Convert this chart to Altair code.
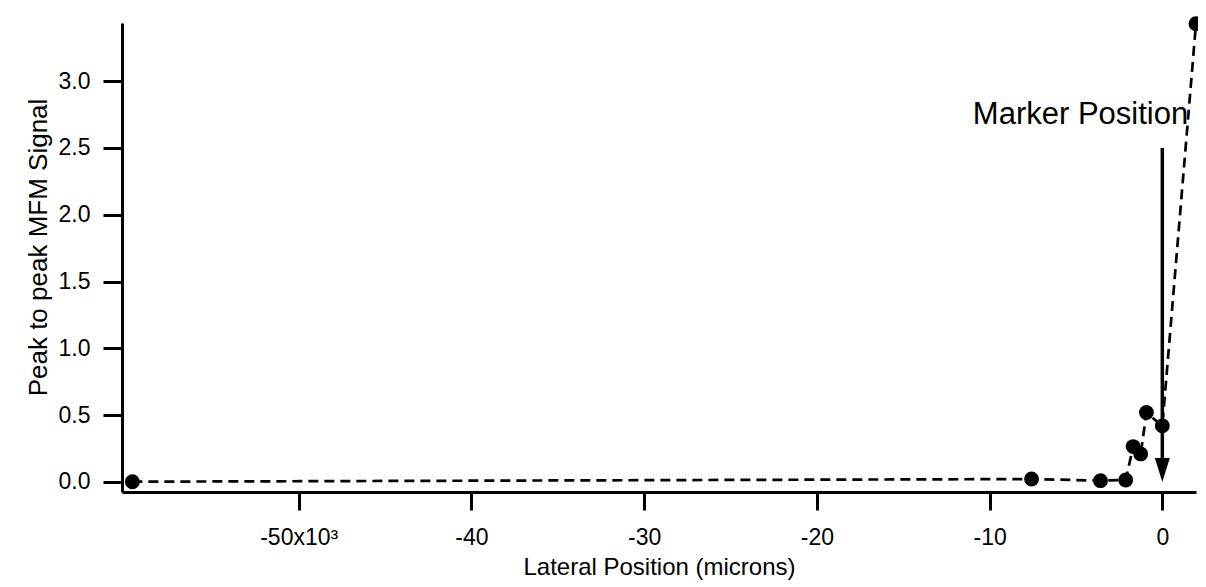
import altair as alt
import pandas as pd

# Data (lateral position in microns, peak-to-peak signal)
x_microns = [-59630, -7570, -3580, -2120, -1690, -1250, -920, 0, 1950]
signal = [0.002, 0.022, 0.010, 0.015, 0.265, 0.210, 0.520, 0.420, 3.430]

x_ticks = [-50000, -40000, -30000, -20000, -10000, 0]
y_ticks = [0.0, 0.5, 1.0, 1.5, 2.0, 2.5, 3.0]

marker_x = [0]
marker_top = [2.5]
marker_line_end = [0.1]
marker_tip = [0.0]
marker_label = ["Marker Position"]
label_x = [1500]
label_y = [2.68]

FONT = "Liberation Sans"

df = pd.DataFrame({"x": x_microns, "y": signal})
arrow_df = pd.DataFrame({"x": marker_x, "y": marker_top, "y2": marker_line_end, "tip": marker_tip})
label_df = pd.DataFrame({"x": label_x, "y": label_y, "text": marker_label})

xscale = alt.Scale(domain=[-60230, 1950], nice=False, zero=False)
yscale = alt.Scale(domain=[-0.075, 3.435], nice=False, zero=False)

xaxis = alt.Axis(
    title="Lateral Position (microns)",
    values=x_ticks,
    labelExpr="datum.value == -50000 ? '-50x10³' : (datum.value == 0 ? '0' : '-' + format(-datum.value / 1000, 'd'))",
    grid=False,
    domainColor="black", domainWidth=3,
    tickColor="black", tickWidth=3, tickSize=18,
    labelFont=FONT, labelFontSize=23, labelColor="black", labelPadding=16,
    titleFont=FONT, titleFontSize=24, titleFontWeight="normal", titleColor="black",
    titlePadding=6,
)
yaxis = alt.Axis(
    title="Peak to peak MFM Signal",
    values=y_ticks,
    format=".1f",
    grid=False,
    domainColor="black", domainWidth=3,
    tickColor="black", tickWidth=3, tickSize=19,
    labelFont=FONT, labelFontSize=23, labelColor="black", labelPadding=13,
    titleFont=FONT, titleFontSize=26, titleFontWeight="normal", titleColor="black",
    titlePadding=7, titleY=224,
)

base = alt.Chart(df)

line = base.mark_line(color="black", strokeWidth=2.7, strokeDash=[10, 6]).encode(
    x=alt.X("x:Q", scale=xscale, axis=xaxis),
    y=alt.Y("y:Q", scale=yscale, axis=yaxis),
)
points = base.mark_circle(color="black", size=220, opacity=1).encode(
    x=alt.X("x:Q", scale=xscale),
    y=alt.Y("y:Q", scale=yscale),
)

arrow_line = alt.Chart(arrow_df).mark_rule(color="black", strokeWidth=3.5).encode(
    x=alt.X("x:Q", scale=xscale),
    y=alt.Y("y:Q", scale=yscale),
    y2="y2:Q",
)
arrow_head = alt.Chart(arrow_df).mark_point(
    shape="M-1,-3.2L1,-3.2L0,0Z", filled=True, color="black", size=225, opacity=1
).encode(
    x=alt.X("x:Q", scale=xscale),
    y=alt.Y("tip:Q", scale=yscale),
)

label = alt.Chart(label_df).mark_text(
    font=FONT, fontSize=31, color="black", align="right", baseline="alphabetic"
).encode(
    x=alt.X("x:Q", scale=xscale),
    y=alt.Y("y:Q", scale=yscale),
    text="text:N",
)

chart = alt.layer(line, points, arrow_line, arrow_head, label).properties(
    width=1074,
    height=469,
    autosize=alt.AutoSizeParams(type="none"),
    padding={"left": 114, "top": 15, "right": 2, "bottom": 90},
    background="white",
).configure_view(stroke=None)

chart.save("out.html", embed_options={"renderer": "svg", "actions": False})
